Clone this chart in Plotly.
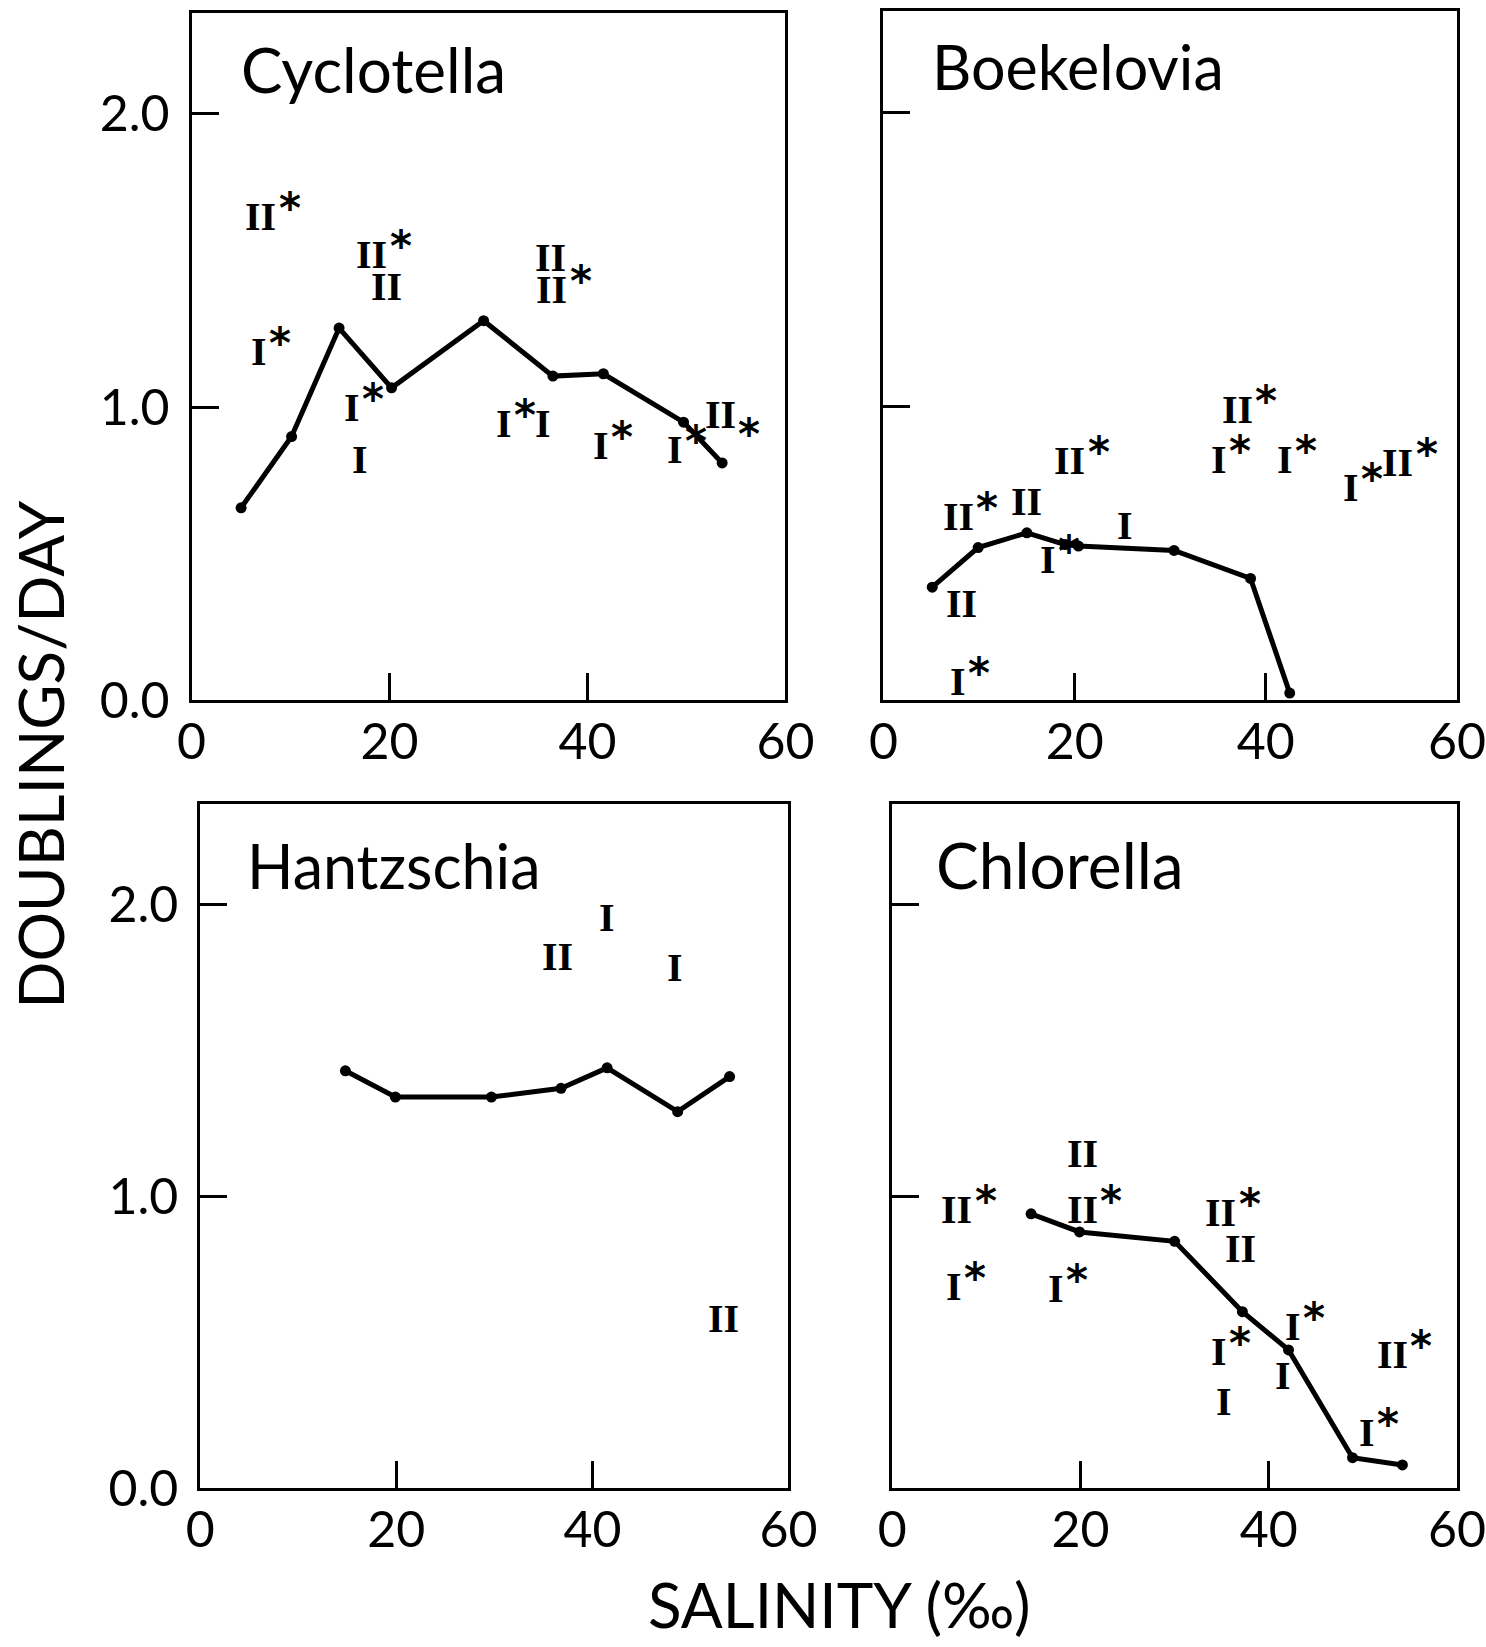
import plotly.graph_objects as go

# ---------------- data ----------------
panel_names = ["Cyclotella", "Boekelovia", "Hantzschia", "Chlorella"]

x_ticks = [0, 20, 40, 60]
x_tick_text = ["0", "20", "40", "60"]
y_ticks = [0, 1, 2]
y_tick_text = ["0.0", "1.0", "2.0"]

# Cyclotella
cyc_line_x = [5.0, 10.1, 14.9, 20.2, 29.5, 36.5, 41.6, 49.7, 53.6]
cyc_line_y = [0.657, 0.90, 1.27, 1.066, 1.295, 1.106, 1.114, 0.949, 0.81]
cyc_lab_x = [7.0, 18.2, 19.7, 6.8, 16.2, 17.0, 36.3, 36.4, 31.6, 35.5, 41.4, 48.8, 53.4]
cyc_lab_y = [1.65, 1.52, 1.41, 1.19, 1.00, 0.82, 1.51, 1.40, 0.945, 0.945, 0.87, 0.855, 0.975]
cyc_lab = ["II*", "II*", "II", "I*", "I*", "I", "II", "II*", "I*", "I", "I*", "I*", "II_*"]

# Boekelovia
boe_line_x = [5.1, 9.9, 15.0, 19.0, 20.4, 30.4, 38.4, 42.5]
boe_line_y = [0.385, 0.52, 0.57, 0.53, 0.525, 0.51, 0.415, 0.025]
boe_lab_x = [7.8, 15.0, 19.5, 25.3, 17.2, 8.2, 7.8, 37.0, 35.1, 42.0, 48.9, 53.8]
boe_lab_y = [0.625, 0.675, 0.815, 0.595, 0.48, 0.33, 0.065, 0.99, 0.82, 0.82, 0.725, 0.81]
boe_lab = ["II*", "II", "II*", "I", "I*", "II", "I*", "II*", "I*", "I*", "I*", "II*"]

# Hantzschia
han_line_x = [14.8, 19.9, 29.7, 36.8, 41.5, 48.7, 54.0]
han_line_y = [1.43, 1.34, 1.34, 1.37, 1.44, 1.29, 1.41]
han_lab_x = [36.4, 41.5, 48.4, 53.4]
han_lab_y = [1.82, 1.955, 1.785, 0.58]
han_lab = ["II", "I", "I", "II"]

# Chlorella
chl_line_x = [14.75, 19.9, 30.0, 37.2, 42.1, 48.9, 54.2]
chl_line_y = [0.94, 0.878, 0.846, 0.605, 0.474, 0.105, 0.08]
chl_lab_x = [6.85, 6.55, 20.2, 20.2, 17.45, 34.9, 36.95, 42.55, 34.75, 35.2, 41.5, 53.1, 50.4]
chl_lab_y = [0.955, 0.69, 1.145, 0.955, 0.685, 0.945, 0.82, 0.555, 0.468, 0.296, 0.388, 0.46, 0.19]
chl_lab = ["II*", "I*", "II", "II*", "I*", "II*", "II", "I*", "I*", "I", "I", "II*", "I*"]

x_axis_title = "SALINITY (‰)"
y_axis_title = "DOUBLINGS/DAY"

# ---------------- layout geometry (pixels) ----------------
W, H = 1486, 1647
# (left, right, top, bottom) of each panel frame
frames = [(182, 794, 13, 713), (895, 1486, 11, 713),
          (191, 797, 818, 1515), (904, 1486, 818, 1515)]
YMAX = 2.345
title_pos = [(231, 70), (943, 68), (237, 881), (947, 880)]
title_size = [62, 61, 61, 64]

SANS = "Lato, 'Open Sans', sans-serif"
SERIF = "'Liberation Serif', 'DejaVu Serif', serif"
NUM_SIZE = 40
STAR_SIZE = 42
half_w = {"I": 7, "II": 15}

series = [
    (cyc_line_x, cyc_line_y, cyc_lab_x, cyc_lab_y, cyc_lab),
    (boe_line_x, boe_line_y, boe_lab_x, boe_lab_y, boe_lab),
    (han_line_x, han_line_y, han_lab_x, han_lab_y, han_lab),
    (chl_line_x, chl_line_y, chl_lab_x, chl_lab_y, chl_lab),
]

fig = go.Figure()
annotations = []
layout_axes = {}

for i, ((lx, ly, tx, ty, tl), (l, r, t, b)) in enumerate(zip(series, frames)):
    n = "" if i == 0 else str(i + 1)
    xref, yref = "x" + n, "y" + n
    fig.add_trace(go.Scatter(
        x=lx, y=ly, mode="lines+markers", xaxis=xref, yaxis=yref,
        line=dict(color="black", width=5),
        marker=dict(color="black", size=11),
        showlegend=False, hoverinfo="skip", cliponaxis=False))
    for x, y, lab in zip(tx, ty, tl):
        num = lab.replace("_", "").replace("*", "")
        annotations.append(dict(
            x=x, y=y, xref=xref, yref=yref, text="<b>" + num + "</b>", showarrow=False,
            xanchor="center", yanchor="middle",
            font=dict(family=SERIF, size=NUM_SIZE, color="black")))
        if "*" in lab:
            sub = "_" in lab
            annotations.append(dict(
                x=x, y=y, xref=xref, yref=yref, text="<b>*</b>", showarrow=False,
                xanchor="center", yanchor="middle",
                xshift=half_w[num] + 14, yshift=(-20 if sub else 8),
                font=dict(family="'DejaVu Sans', sans-serif", size=STAR_SIZE, color="black")))
    axis_common = dict(
        showline=True, mirror=True, linecolor="black", linewidth=3,
        ticks="inside", ticklen=27, tickwidth=3, tickcolor="black",
        showgrid=False, zeroline=False, fixedrange=True,
        ticklabeloverflow="allow",
        tickfont=dict(family=SANS, size=50, color="black"))
    layout_axes["xaxis" + n] = dict(
        axis_common, domain=[l / W, r / W], anchor=yref, range=[0, 60],
        tickvals=x_ticks, ticktext=x_tick_text, ticklabelstandoff=-4)
    layout_axes["yaxis" + n] = dict(
        axis_common, domain=[1 - b / H, 1 - t / H], anchor=xref, range=[0, YMAX],
        tickvals=y_ticks, ticktext=y_tick_text, ticklabelstandoff=9,
        showticklabels=(i % 2 == 0))
    tx0, ty0 = title_pos[i]
    annotations.append(dict(
        x=tx0 / W, y=1 - ty0 / H, xref="paper", yref="paper", text=panel_names[i],
        showarrow=False, xanchor="left", yanchor="middle",
        font=dict(family=SANS, size=title_size[i], color="black")))

annotations.append(dict(
    x=850 / W, y=1 - 1633 / H, xref="paper", yref="paper", text=x_axis_title,
    showarrow=False, xanchor="center", yanchor="middle",
    font=dict(family=SANS, size=62, color="black")))
annotations.append(dict(
    x=26 / W, y=1 - 768 / H, xref="paper", yref="paper", text=y_axis_title,
    showarrow=False, xanchor="center", yanchor="middle", textangle=-90,
    font=dict(family=SANS, size=62, color="black")))

fig.update_layout(
    width=W, height=H, autosize=False,
    margin=dict(l=0, r=0, t=0, b=0),
    paper_bgcolor="white", plot_bgcolor="white",
    annotations=annotations, **layout_axes)

fig.write_html("out.html")
